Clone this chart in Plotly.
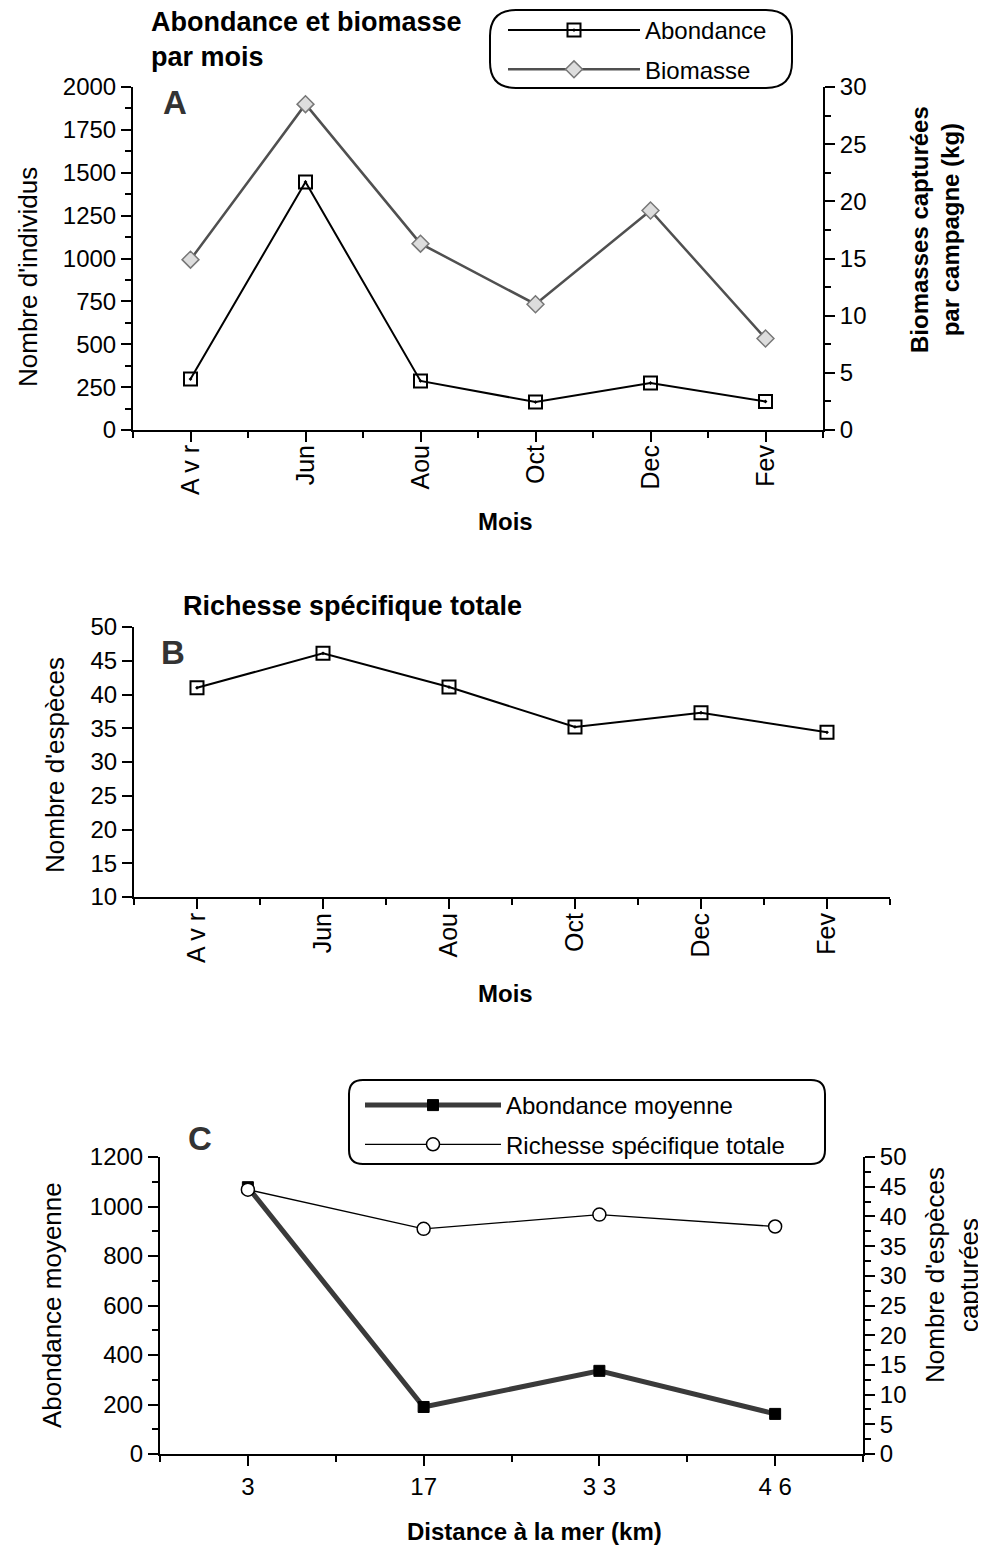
import plotly.graph_objects as go

W, H = 986, 1552
FONT = "Liberation Sans"
PAGE_OFFSET = 8  # default body margin of the page

# ---------------- data ----------------
months = ["A v r", "Jun", "Aou", "Oct", "Dec", "Fev"]
abondance = [297, 1446, 286, 163, 274, 166]
biomasse = [14.9, 28.5, 16.3, 11.0, 19.2, 8.0]
richesse_mois = [41.0, 46.1, 41.1, 35.2, 37.3, 34.4]
distances = ["3", "17", "3 3", "4 6"]
abondance_moy = [1078, 190, 336, 162]
richesse_dist = [44.5, 37.9, 40.3, 38.3]

month_pos = list(range(len(months)))
dist_pos = list(range(len(distances)))


def fx(p):
    return (p - PAGE_OFFSET) / W


def fy(p):
    return 1 - (p - PAGE_OFFSET) / H


fig = go.Figure()

# Panel A
fig.add_trace(go.Scatter(
    x=month_pos, y=abondance, xaxis="x", yaxis="y", name="Abondance",
    legend="legend", legendgroup="a1", mode="lines+markers",
    line=dict(color="black", width=2),
    marker=dict(symbol="square-open-dot", size=13, color="black", line=dict(width=2))))
fig.add_trace(go.Scatter(
    x=month_pos, y=biomasse, xaxis="x", yaxis="y2", name="Biomasse",
    legend="legend", legendgroup="a2", mode="lines+markers",
    line=dict(color="#505050", width=2.5),
    marker=dict(symbol="diamond", size=13, color="#dddddd", line=dict(color="#777777", width=1.5))))

# Panel B
fig.add_trace(go.Scatter(
    x=month_pos, y=richesse_mois, xaxis="x3", yaxis="y3", showlegend=False,
    mode="lines+markers", line=dict(color="black", width=2),
    marker=dict(symbol="square-open-dot", size=13, color="black", line=dict(width=2))))

# Panel C
fig.add_trace(go.Scatter(
    x=dist_pos, y=abondance_moy, xaxis="x4", yaxis="y4", name="Abondance moyenne",
    legend="legend2", legendgroup="c1", mode="lines+markers",
    line=dict(color="#3a3a3a", width=5),
    marker=dict(symbol="square", size=11, color="black", line=dict(color="black", width=1))))
fig.add_trace(go.Scatter(
    x=dist_pos, y=richesse_dist, xaxis="x4", yaxis="y5", name="Richesse spécifique totale",
    legend="legend2", legendgroup="c2", mode="lines+markers",
    line=dict(color="black", width=1.3),
    marker=dict(symbol="circle", size=13, color="white", line=dict(color="black", width=1.5))))

tickfont = dict(family=FONT, size=24, color="black")
monthfont = dict(family=FONT, size=25, color="black")
base = dict(showline=True, linecolor="black", linewidth=2, ticks="outside",
            tickcolor="black", tickwidth=2, ticklen=10, showgrid=False,
            zeroline=False, tickfont=tickfont, fixedrange=True, automargin=False)
minor_style = dict(ticks="outside", ticklen=6, tickwidth=2, tickcolor="black", showgrid=False)

legend_font = dict(family=FONT, size=24, color="black")

fig.update_layout(
    template="none",
    width=W, height=H, margin=dict(l=0, r=0, t=0, b=0, autoexpand=False),
    paper_bgcolor="white", plot_bgcolor="white",
    font=dict(family=FONT, color="black"),
    xaxis=dict(base, domain=[fx(133), fx(823)], anchor="y", range=[-0.5, 5.5],
               tickmode="array", tickvals=month_pos, ticktext=months, tickangle=-90,
               tickfont=monthfont, ticklabelstandoff=-7,
               minor=dict(minor_style, tick0=0.5, dtick=1)),
    yaxis=dict(base, domain=[fy(430), fy(87)], anchor="x", range=[0, 2000],
               tick0=0, dtick=250, minor=dict(minor_style, tick0=0, dtick=125)),
    yaxis2=dict(base, overlaying="y", side="right", anchor="x", range=[0, 30],
                tick0=0, dtick=5, minor=dict(minor_style, tick0=0, dtick=2.5)),
    xaxis3=dict(base, domain=[fx(134), fx(890)], anchor="y3", range=[-0.5, 5.5],
                tickmode="array", tickvals=month_pos, ticktext=months, tickangle=-90,
                tickfont=monthfont, ticklabelstandoff=-6,
                minor=dict(minor_style, tick0=0.5, dtick=1)),
    yaxis3=dict(base, domain=[fy(897), fy(627)], anchor="x3", range=[10, 50],
                tick0=10, dtick=5),
    xaxis4=dict(base, domain=[fx(160), fx(863)], anchor="y4", range=[-0.5, 3.5],
                tickmode="array", tickvals=dist_pos, ticktext=distances, tickangle=0,
                ticklabelstandoff=0, minor=dict(minor_style, tick0=0.5, dtick=1)),
    yaxis4=dict(base, domain=[fy(1454), fy(1157)], anchor="x4", range=[0, 1200],
                tick0=0, dtick=200, minor=dict(minor_style, tick0=0, dtick=100)),
    yaxis5=dict(base, overlaying="y4", side="right", anchor="x4", range=[0, 50],
                tick0=0, dtick=5, minor=dict(minor_style, tick0=0, dtick=2.5)),
    legend=dict(x=fx(503), y=fy(8), xanchor="left", yanchor="top",
                bgcolor="rgba(0,0,0,0)", borderwidth=0, tracegroupgap=5,
                itemwidth=132, font=legend_font),
    legend2=dict(x=fx(360), y=fy(1083), xanchor="left", yanchor="top",
                 bgcolor="rgba(0,0,0,0)", borderwidth=0, tracegroupgap=5,
                 itemwidth=136, font=legend_font),
    showlegend=True,
)


def rounded_box(x0, y0, x1, y1, r):
    """rounded rectangle in pixel space converted to paper coords"""
    pts = [
        ("M", [(x0 + r, y0)]),
        ("L", [(x1 - r, y0)]),
        ("Q", [(x1, y0), (x1, y0 + r)]),
        ("L", [(x1, y1 - r)]),
        ("Q", [(x1, y1), (x1 - r, y1)]),
        ("L", [(x0 + r, y1)]),
        ("Q", [(x0, y1), (x0, y1 - r)]),
        ("L", [(x0, y0 + r)]),
        ("Q", [(x0, y0), (x0 + r, y0)]),
    ]
    s = ""
    for cmd, ps in pts:
        s += cmd + " ".join(f"{fx(px):.5f},{fy(py):.5f}" for px, py in ps)
    return s + "Z"


fig.add_shape(type="path", xref="paper", yref="paper",
              path=rounded_box(490, 10, 792, 88, 26),
              line=dict(color="black", width=2))
fig.add_shape(type="path", xref="paper", yref="paper",
              path=rounded_box(349, 1080, 825, 1164, 14),
              line=dict(color="black", width=2))


def ann(text, x, y, size=22, bold=False, angle=0, xanchor="center", yanchor="middle", color="black"):
    if bold:
        text = f"<b>{text}</b>"
    fig.add_annotation(text=text, x=fx(x), y=fy(y), xref="paper", yref="paper",
                       showarrow=False, textangle=angle, xanchor=xanchor, yanchor=yanchor,
                       font=dict(family=FONT, size=size, color=color))


# titles
ann("Abondance et biomasse", 149, 22, size=27, bold=True, xanchor="left")
ann("par mois", 149, 57, size=27, bold=True, xanchor="left")
ann("Richesse spécifique totale", 181, 606, size=27, bold=True, xanchor="left")

# panel letters
ann("A", 175, 102, size=33, bold=True, color="#333333")
ann("B", 173, 652, size=33, bold=True, color="#333333")
ann("C", 200, 1138, size=33, bold=True, color="#333333")

# axis titles
ann("Nombre d'individus", 28, 277, size=26, angle=-90)
ann("Biomasses capturées<br>par campagne (kg)", 935, 230, size=24, bold=True, angle=-90)
ann("Mois", 505, 522, size=24, bold=True)
ann("Nombre d'espèces", 55, 765, size=26, angle=-90)
ann("Mois", 505, 993, size=24, bold=True)
ann("Abondance moyenne", 52, 1305, size=26, angle=-90)
ann("Nombre d'espèces<br>capturées", 952, 1275, size=26, angle=-90)
ann("Distance à la mer (km)", 534, 1531, size=24, bold=True)

fig.write_html("out.html")
